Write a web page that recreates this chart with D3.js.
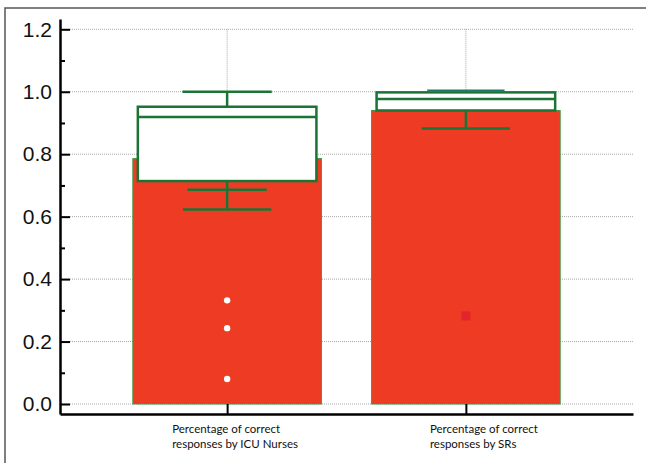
<!DOCTYPE html>
<html>
<head>
<meta charset="utf-8">
<script src="https://cdn.jsdelivr.net/npm/d3@7"></script>
<style>
  body { margin: 0; background: #fff; }
  svg { display: block; }
</style>
</head>
<body>
<svg id="chart" width="646" height="463"></svg>
<script>
// categories and label lines
const categories = ["ICU Nurses", "SRs"];
const labelLines = [
  ["Percentage of correct", "responses by ICU Nurses"],
  ["Percentage of correct", "responses by SRs"]
];

// bar heights and box statistics
const barValues = [0.786, 0.940];
const boxLow = [0.714, 0.940];
const boxMedian = [0.919, 0.977];
const boxHigh = [0.952, 0.998];
const whiskerHigh = [1.0, 1.003];
const whiskerLow = [0.623, 0.882];
const innerLow = [0.686, null];

// markers
const nurseOutliers = [0.332, 0.243, 0.080];
const srMean = [0.282];

const yTicks = [0.0, 0.2, 0.4, 0.6, 0.8, 1.0, 1.2];
const yMinor = [0.1, 0.3, 0.5, 0.7, 0.9, 1.1];

const svg = d3.select("#chart");

// outer frame
svg.append("path")
    .attr("d", "M5,463V8H646")
    .attr("fill", "none")
    .attr("stroke", "#555")
    .attr("stroke-width", 1.5);

const x = d3.scalePoint()
    .domain(categories)
    .range([60, 633])
    .padding(0.7);

const y = d3.scaleLinear()
    .domain([-0.032, 1.233])
    .range([414, 19]);

const step = x.step();

// dotted grid
const grid = svg.append("g").attr("stroke", "#a8a8a8").attr("stroke-width", 1).attr("stroke-dasharray", "1,1");
grid.selectAll("line.h")
    .data(yTicks)
    .join("line")
    .attr("x1", 60).attr("x2", 633)
    .attr("y1", d => y(d)).attr("y2", d => y(d));
grid.selectAll("line.v")
    .data(categories)
    .join("line")
    .attr("class", "v")
    .attr("x1", d => x(d)).attr("x2", d => x(d))
    .attr("y1", y(1.2)).attr("y2", y(0));

// red bars
svg.append("g").selectAll("rect")
    .data(categories)
    .join("rect")
    .attr("x", d => x(d) - step * 0.395)
    .attr("width", step * 0.79)
    .attr("y", (d, i) => y(barValues[i]))
    .attr("height", (d, i) => y(0) - y(barValues[i]))
    .attr("fill", "#ee3b23")
    .attr("stroke", "#3f9a45")
    .attr("stroke-width", 1);

const green = "#1b7434";
const boxes = svg.append("g").attr("stroke", green).attr("stroke-width", 2.5).attr("fill", "none");

// whiskers (vertical)
categories.forEach((c, i) => {
  boxes.append("line")
      .attr("x1", x(c)).attr("x2", x(c))
      .attr("y1", y(whiskerLow[i])).attr("y2", y(boxLow[i]));
  boxes.append("line")
      .attr("x1", x(c)).attr("x2", x(c))
      .attr("y1", y(boxHigh[i])).attr("y2", y(whiskerHigh[i]));
});

// boxes
boxes.selectAll("rect")
    .data(categories)
    .join("rect")
    .attr("x", d => x(d) - step * 0.374)
    .attr("width", step * 0.748)
    .attr("y", (d, i) => y(boxHigh[i]))
    .attr("height", (d, i) => y(boxLow[i]) - y(boxHigh[i]))
    .attr("fill", "#fff");

// medians
boxes.selectAll("line.med")
    .data(categories)
    .join("line")
    .attr("class", "med")
    .attr("x1", d => x(d) - step * 0.374)
    .attr("x2", d => x(d) + step * 0.374)
    .attr("y1", (d, i) => y(boxMedian[i]))
    .attr("y2", (d, i) => y(boxMedian[i]));

// caps
boxes.selectAll("line.lo")
    .data(categories)
    .join("line")
    .attr("class", "lo")
    .attr("x1", d => x(d) - step * 0.185)
    .attr("x2", d => x(d) + step * 0.185)
    .attr("y1", (d, i) => y(whiskerLow[i]))
    .attr("y2", (d, i) => y(whiskerLow[i]));

boxes.selectAll("line.hi")
    .data(categories)
    .join("line")
    .attr("class", "hi")
    .attr("x1", (d, i) => x(d) - step * (i === 0 ? 0.187 : 0.162))
    .attr("x2", (d, i) => x(d) + step * (i === 0 ? 0.187 : 0.162))
    .attr("y1", (d, i) => y(whiskerHigh[i]))
    .attr("y2", (d, i) => y(whiskerHigh[i]))
    .attr("stroke", (d, i) => i === 0 ? green : "#1f7a6a");

boxes.selectAll("line.inner")
    .data(categories.filter((d, i) => innerLow[i] !== null))
    .join("line")
    .attr("class", "inner")
    .attr("x1", d => x(d) - step * 0.166)
    .attr("x2", d => x(d) + step * 0.166)
    .attr("y1", d => y(innerLow[categories.indexOf(d)]))
    .attr("y2", d => y(innerLow[categories.indexOf(d)]));

// outlier dots and mean square
svg.append("g").selectAll("circle")
    .data(nurseOutliers)
    .join("circle")
    .attr("cx", x(categories[0]))
    .attr("cy", d => y(d))
    .attr("r", 3.2)
    .attr("fill", "#fff");

svg.append("g").selectAll("rect")
    .data(srMean)
    .join("rect")
    .attr("x", x(categories[1]) - 4.5)
    .attr("y", d => y(d) - 4.5)
    .attr("width", 9).attr("height", 9)
    .attr("fill", "#e3242b");

// y axis: major ticks with labels, minor ticks
const yAxis = svg.append("g")
    .attr("transform", "translate(60,0)")
    .call(d3.axisLeft(y).tickValues(yTicks).tickFormat(d3.format(".1f"))
      .tickSizeInner(-10).tickSizeOuter(0).tickPadding(8));
yAxis.select(".domain").attr("stroke-width", 2.5);
yAxis.selectAll(".tick line").attr("stroke-width", 2);
yAxis.selectAll("text")
    .attr("font-family", "'Liberation Sans', Arial, sans-serif")
    .attr("font-size", 21)
    .attr("fill", "#111");

const yMinorAxis = svg.append("g")
    .attr("transform", "translate(60,0)")
    .call(d3.axisLeft(y).tickValues(yMinor).tickFormat("").tickSizeInner(-5).tickSizeOuter(0));
yMinorAxis.select(".domain").remove();
yMinorAxis.selectAll(".tick line").attr("stroke-width", 2);

// x axis
const xAxis = svg.append("g")
    .attr("transform", "translate(0,414)")
    .call(d3.axisBottom(x).tickFormat("").tickSizeInner(-10).tickSizeOuter(0));
xAxis.select(".domain").attr("stroke-width", 2.5);
xAxis.selectAll(".tick line").attr("stroke-width", 2);

// category labels, two left-aligned lines each
const labelShift = [-55, -36];
const labels = svg.append("g")
    .attr("font-family", "Lato, 'Open Sans', sans-serif")
    .attr("font-size", 11.5)
    .attr("fill", "#111");
categories.forEach((c, i) => {
  const t = labels.append("text")
      .attr("x", x(c) + labelShift[i])
      .attr("y", 433);
  labelLines[i].forEach((line, j) => {
    t.append("tspan")
        .attr("x", x(c) + labelShift[i])
        .attr("dy", j === 0 ? 0 : 15)
        .text(line);
  });
});
</script>
</body>
</html>
